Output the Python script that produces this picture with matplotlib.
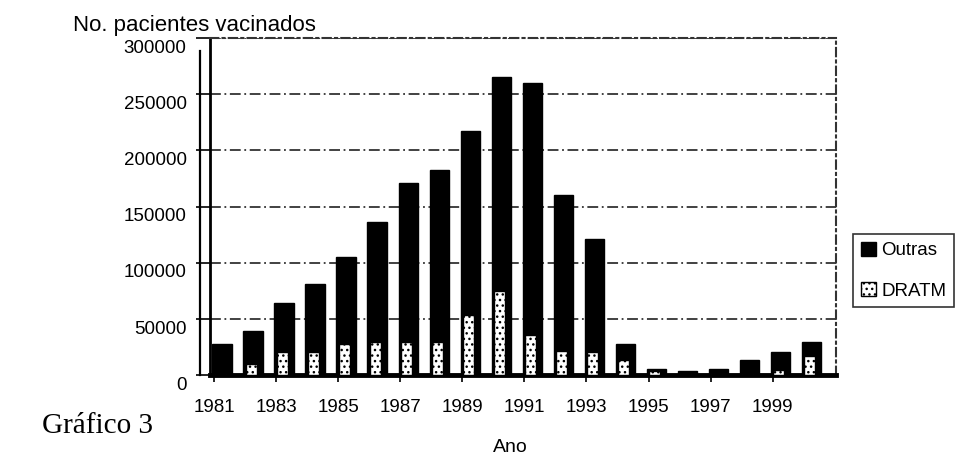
import matplotlib

matplotlib.use("Agg")
import matplotlib.pyplot as plt
import matplotlib.transforms as mtransforms

# values (approximate)
years = list(range(1981, 2001))
outras = [28000, 39000, 64000, 81000, 105000, 136000, 171000, 183000, 217000, 265000,
          260000, 160000, 121000, 28000, 6000, 3500, 6000, 13500, 20500, 29500]
dratm = [1500, 10000, 21000, 21000, 27500, 30000, 29500, 29500, 53500, 75000,
         35500, 21500, 20500, 14000, 3500, 800, 1200, 800, 5000, 17000]
tick_years = list(range(1981, 2000, 2))
y_ticks = [0, 50000, 100000, 150000, 200000, 250000, 300000]

plt.rcParams["font.family"] = ["Liberation Sans", "DejaVu Sans"]
plt.rcParams["hatch.linewidth"] = 1.0

fig = plt.figure(figsize=(9.6, 4.75), dpi=100)
ax = fig.add_axes([0.219, 0.21, 0.652, 0.71])

ax.bar(years, outras, width=0.62, color="black", edgecolor="black", label="Outras", zorder=2)
ax.bar([y - 0.05 for y in years], dratm, width=0.36, color="white", edgecolor="black",
       hatch="...", linewidth=1.0, label="DRATM", zorder=3)

ax.set_xlim(1980.62, 2000.8)
ax.set_ylim(0, 300000)
ax.set_yticks(y_ticks)
ax.set_yticklabels([str(v) for v in y_ticks])
# year labels sit a little left of the bars in the original
ax.set_xticks([y - 0.25 for y in tick_years])
ax.set_xticklabels([str(y) for y in tick_years])
ax.tick_params(axis="both", labelsize=13.5, width=1.2, color="black")
ax.tick_params(axis="y", length=10, pad=7)
ax.tick_params(axis="x", length=5, pad=12)

# front labels of the 3D chart are drawn a bit lower than the back wall grid
shift = mtransforms.ScaledTranslation(0, -8 / 100, fig.dpi_scale_trans)
for label in ax.get_yticklabels():
    label.set_transform(label.get_transform() + shift)

ax.grid(axis="y", color="#333333", linestyle=(0, (6, 2, 1, 2)), linewidth=1.3, zorder=0)
ax.set_axisbelow(True)

ax.spines["left"].set_linewidth(2)
ax.spines["bottom"].set_linewidth(3.5)
for side in ("top", "right"):
    ax.spines[side].set_linestyle((0, (4, 2, 1, 2)))
    ax.spines[side].set_linewidth(1.5)
    ax.spines[side].set_color("#333333")

# second left edge of the 3D wall
ax.axvline(1980.62 - 0.32, ymin=0, ymax=0.96, color="black", linewidth=1.6, clip_on=False)

ax.text(-0.22, 1.038, "No. pacientes vacinados", transform=ax.transAxes, fontsize=16,
        ha="left", va="center")
ax.set_xlabel("Ano", fontsize=14)
ax.xaxis.set_label_coords(0.48, -0.19)

fig.text(0.044, 0.103, "Gráfico 3", fontsize=21, family=["Liberation Serif", "DejaVu Serif"],
         ha="left", va="center")

leg = ax.legend(loc="center left", bbox_to_anchor=(1.027, 0.31), fontsize=13.5,
                frameon=True, fancybox=False, edgecolor="black", handlelength=0.8,
                handleheight=0.8, handletextpad=0.3, borderpad=0.4, labelspacing=1.2,
                borderaxespad=0)
leg.get_frame().set_linewidth(1.2)

fig.savefig("out.png", dpi=100, facecolor="white")
plt.close(fig)
